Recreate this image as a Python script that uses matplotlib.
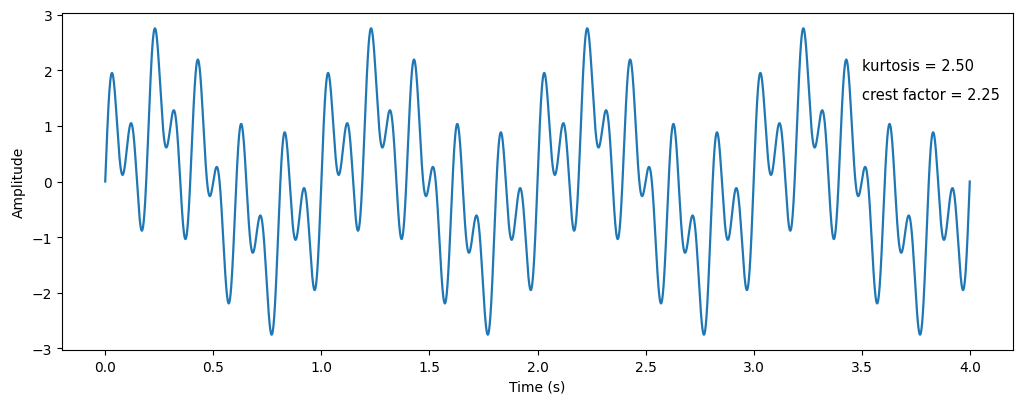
import numpy as np
import matplotlib
matplotlib.use("Agg")
import matplotlib.pyplot as plt

# Signal components (period 1 s, peaks ±2.75)
component_freqs_hz = [1.0, 5.0, 10.0]
component_amps = [1.0, 1.0, 1.0]
duration_s = 4.0
n_samples = 4000

kurtosis_label = "kurtosis = 2.50"
crest_label = "crest factor = 2.25"

t = np.linspace(0, duration_s, n_samples + 1)
y = np.zeros_like(t)
for f, a in zip(component_freqs_hz, component_amps):
    y += a * np.sin(2 * np.pi * f * t)

fig = plt.figure(figsize=(10.24, 4.06), dpi=100)
ax = fig.add_axes([62/1024, 1 - 351/406, (1013-62)/1024, (351-14)/406])
ax.plot(t, y, color="#1f77b4", linewidth=1.6)
ax.set_xlabel("Time (s)")
ax.set_ylabel("Amplitude")
ax.text(0.841, 0.843, kurtosis_label, transform=ax.transAxes, va="center", ha="left", fontsize=10.5)
ax.text(0.841, 0.757, crest_label, transform=ax.transAxes, va="center", ha="left", fontsize=10.5)
fig.savefig("out.png", dpi=100)
